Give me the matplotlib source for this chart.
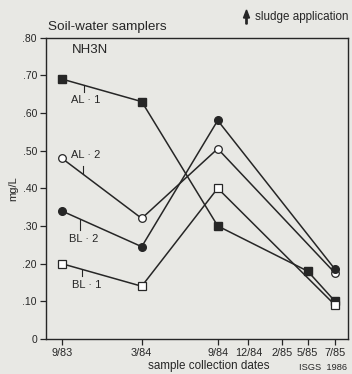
import matplotlib
matplotlib.use("Agg")
import matplotlib.pyplot as plt

# Sample collection dates and their positions along the date axis
dates = ["9/83", "3/84", "9/84", "12/84", "2/85", "5/85", "7/85"]
date_pos = [15.7, 95.7, 171.7, 202.3, 236.3, 261.7, 289.0]

# NH3-N concentrations (mg/L) for each sampler; index into dates
al1_idx = [0, 1, 2, 5, 6]
al1_val = [0.69, 0.63, 0.30, 0.18, 0.10]
al2_idx = [0, 1, 2, 6]
al2_val = [0.48, 0.32, 0.505, 0.175]
bl2_idx = [0, 1, 2, 6]
bl2_val = [0.34, 0.245, 0.58, 0.185]
bl1_idx = [0, 1, 2, 6]
bl1_val = [0.20, 0.14, 0.40, 0.09]

y_ticks = [0, 0.10, 0.20, 0.30, 0.40, 0.50, 0.60, 0.70, 0.80]
y_labels = ["0", ".10", ".20", ".30", ".40", ".50", ".60", ".70", ".80"]

bg = "#e8e8e4"
ink = "#262626"
plt.rcParams["font.family"] = ["Liberation Sans", "DejaVu Sans"]

fig = plt.figure(figsize=(3.52, 3.74), dpi=100, facecolor=bg)
ax = fig.add_axes([0.1307, 0.0936, 0.858, 0.806], facecolor=bg)

def xs(idx):
    return [date_pos[i] for i in idx]

common = dict(color=ink, lw=1.1, markersize=5.5, zorder=3)
ax.plot(xs(al1_idx), al1_val, marker="s", mfc=ink, mec=ink, **common)
ax.plot(xs(al2_idx), al2_val, marker="o", mfc="white", mec=ink, mew=0.9, **common)
ax.plot(xs(bl2_idx), bl2_val, marker="o", mfc=ink, mec=ink, **common)
ax.plot(xs(bl1_idx), bl1_val, marker="s", mfc="white", mec=ink, mew=0.9, **common)

ax.set_xlim(0, 302)
ax.set_ylim(0, 0.80)
ax.set_xticks(date_pos)
ax.set_xticklabels(dates, fontsize=7.8, color=ink)
ax.set_yticks(y_ticks)
ax.set_yticklabels(y_labels, fontsize=7.5, color=ink)
ax.tick_params(direction="out", length=4, width=0.9, color=ink, pad=2.5)
for s in ax.spines.values():
    s.set_color(ink)
    s.set_linewidth(1.0)

ax.set_ylabel("mg/L", fontsize=8, color=ink, labelpad=3)

# Series labels with short leader ticks
def series_label(text, x_text, y_text, x_lead, y0, y1):
    ax.text(x_text, y_text, text, fontsize=8, color=ink, va="center", ha="left")
    ax.plot([x_lead, x_lead], [y0, y1], color=ink, lw=0.8, zorder=2)

series_label("AL \u00b7 1", 25, 0.633, 37.5, 0.675, 0.655)
series_label("AL \u00b7 2", 25, 0.488, 36.5, 0.437, 0.458)
series_label("BL \u00b7 2", 23, 0.265, 33.5, 0.315, 0.290)
series_label("BL \u00b7 1", 26, 0.143, 35.5, 0.183, 0.168)

ax.text(26, 0.767, "NH3N", fontsize=9.5, color=ink, va="center", ha="left")

fig.text(48 / 352, 1 - 27 / 374, "Soil-water samplers", fontsize=9.7, color=ink,
         va="center", ha="left")
fig.text(255 / 352, 1 - 17 / 374, "sludge application", fontsize=8.4, color=ink,
         va="center", ha="left")
fig.patches.append(matplotlib.patches.FancyArrow(
    246.5 / 352, 1 - 24 / 374, 0, 14 / 374, width=1.3 / 352, head_width=6 / 352,
    head_length=8 / 374, length_includes_head=True, color=ink,
    transform=fig.transFigure, figure=fig))

fig.text(209 / 352, 1 - 366 / 374, "sample collection dates", fontsize=8.4, color=ink,
         va="center", ha="center")
fig.text(299 / 352, 1 - 367 / 374, "ISGS  1986", fontsize=6.7, color=ink,
         va="center", ha="left")

fig.savefig("out.png", dpi=100, facecolor=bg)
